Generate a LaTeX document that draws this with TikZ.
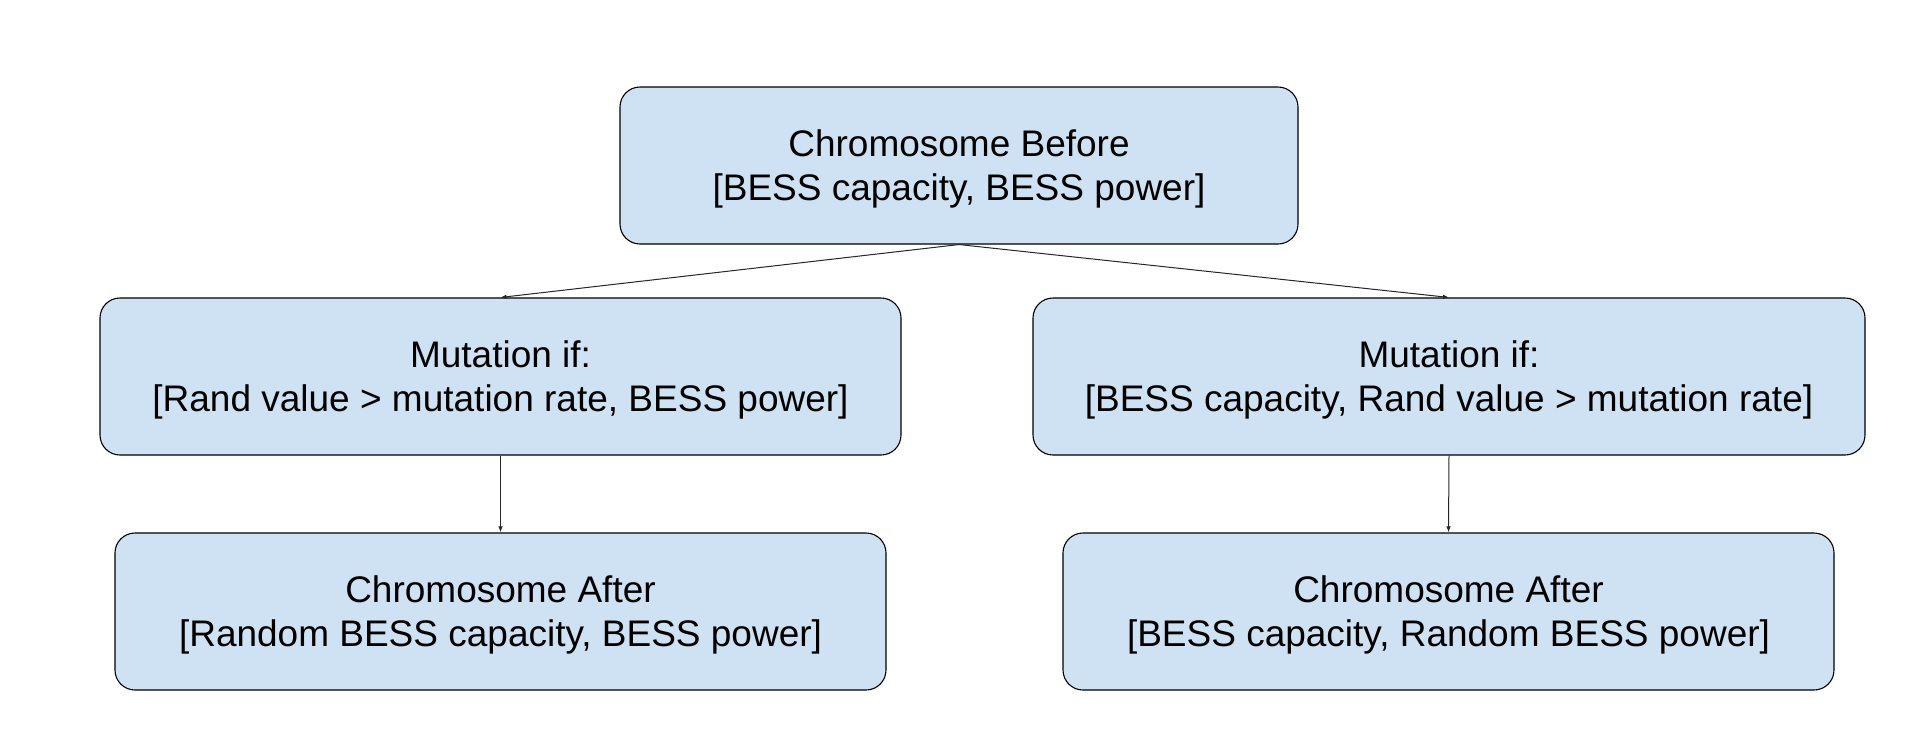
\documentclass[tikz,border=0pt]{standalone}
\usepackage{fontspec}
\setmainfont{Liberation Sans}
\usetikzlibrary{arrows.meta}
\definecolor{boxblue}{HTML}{CFE2F3}

\begin{document}
\begin{tikzpicture}[x=1pt, y=-1pt, >={Latex[length=6pt,width=4.5pt]}]
			
			\tikzset{
				chrombox/.style={draw=black, fill=boxblue, line width=1.1pt, rounded corners=20pt,
					align=center, inner sep=0pt, font=\fontsize{37}{44}\selectfont,
					minimum height=157pt, text depth=0pt},
				link/.style={->, line width=1pt, draw=black!85}
			}
			
			% Frame
			\useasboundingbox (0,0) rectangle (1920,729);
			
			% Top box
			\node[chrombox, minimum width=678pt] (Before) at (959,165.5)
				{Chromosome Before\\{}[BESS capacity, BESS power]};
			
			% Mutation boxes
			\node[chrombox, minimum width=801pt] (MutL) at (500.5,376.5)
				{Mutation if:\\{}[Rand value > mutation rate, BESS power]};
			\node[chrombox, minimum width=832pt] (MutR) at (1449,376.5)
				{Mutation if:\\{}[BESS capacity, Rand value > mutation rate]};
			
			% Result boxes
			\node[chrombox, minimum width=771pt] (AfterL) at (500.5,611.5)
				{Chromosome After\\{}[Random BESS capacity, BESS power]};
			\node[chrombox, minimum width=771pt] (AfterR) at (1448.5,611.5)
				{Chromosome After\\{}[BESS capacity, Random BESS power]};
			
			% Connectors
			\draw[link] (Before.south) -- (MutL.north);
			\draw[link] (Before.south) -- (MutR.north);
			\draw[link] (MutL.south) -- (AfterL.north);
			\draw[link] (MutR.south) -- (AfterR.north);
			
		\end{tikzpicture}
\end{document}
